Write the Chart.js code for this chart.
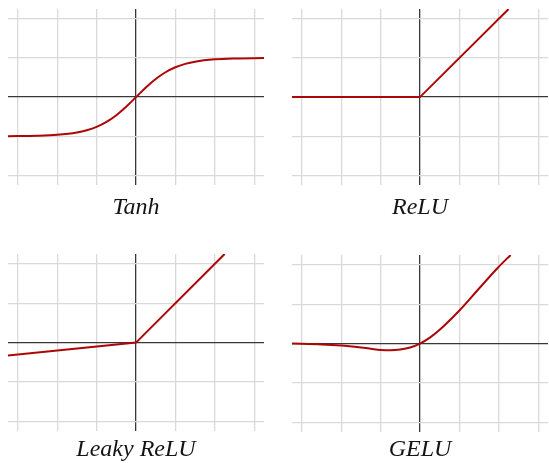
<!DOCTYPE html>
<html>
<head>
<meta charset="utf-8">
<script src="https://cdn.jsdelivr.net/npm/chart.js@4/dist/chart.umd.min.js"></script>
<style>
  html, body { margin: 0; padding: 0; background: #fff; }
  body { width: 549px; height: 463px; position: relative; overflow: hidden; }
  .panel { position: absolute; width: 256px; }
  .panel canvas { display: block; }
</style>
</head>
<body>

<div class="panel" id="p1" style="left:8px; top:9px; height:213px;"><canvas id="tanhChart"></canvas></div>
<div class="panel" id="p2" style="left:292px; top:9px; height:213px;"><canvas id="reluChart"></canvas></div>
<div class="panel" id="p3" style="left:8px; top:254px; height:210px;"><canvas id="leakyChart"></canvas></div>
<div class="panel" id="p4" style="left:292px; top:255px; height:209px;"><canvas id="geluChart"></canvas></div>

<script>
// ---------------- Data ----------------

const xTicks = [-3, -2, -1, 0, 1, 2, 3];
const yTicks = [-2, -1, 0, 1, 2];

const tanhX = [-3.25, -2.5, -2, -1.5, -1.25, -1, -0.75, -0.5, -0.25, 0, 0.25, 0.5, 0.75, 1, 1.25, 1.5, 2, 2.5, 3.25];
const tanhY = [-0.997, -0.987, -0.964, -0.905, -0.848, -0.762, -0.635, -0.462, -0.245, 0, 0.245, 0.462, 0.635, 0.762, 0.848, 0.905, 0.964, 0.987, 0.997];

const reluX = [-3.25, 0, 2.25];
const reluY = [0, 0, 2.25];

const leakyX = [-3.25, 0, 2.25];
const leakyY = [-0.33, 0, 2.25];

const geluX = [-3.25, -2.5, -2, -1.5, -1.25, -1, -0.75, -0.5, -0.25, 0, 0.25, 0.5, 1, 1.5, 2, 2.3];
const geluY = [0, -0.02, -0.05, -0.1, -0.13, -0.16, -0.17, -0.15, -0.1, 0, 0.15, 0.35, 0.84, 1.4, 1.95, 2.25];

// ---------------- Helpers ----------------

const red = "#ac0606";

function points(xs, ys){
  return xs.map((x, i) => ({ x: x, y: ys[i] }));
}

function gridColor(ctx){
  return ctx.tick && ctx.tick.value === 0 ? "#383838" : "#d9d9d9";
}

function gridWidth(ctx){
  return ctx.tick && ctx.tick.value === 0 ? 1.3 : 1.3;
}

function makeChart(id, title, xs, ys, smooth, padTop){

  new Chart(document.getElementById(id), {

    type: "line",

    data: {
      datasets: [{
        data: points(xs, ys),
        borderColor: red,
        borderWidth: 2,
        pointRadius: 0,
        fill: false,
        cubicInterpolationMode: smooth ? "monotone" : "default",
        tension: 0
      }]
    },

    options: {
      responsive: true,
      maintainAspectRatio: false,
      animation: false,
      devicePixelRatio: 1,
      layout: { padding: 0, autoPadding: false },
      plugins: {
        legend: { display: false },
        tooltip: { enabled: false },
        title: {
          display: true,
          position: "bottom",
          text: title,
          color: "#141414",
          font: { family: "Liberation Serif", style: "italic", weight: "normal", size: 24, lineHeight: 1.2 },
          padding: { top: padTop, bottom: 0 }
        }
      },
      scales: {
        x: {
          type: "linear",
          min: -3.25,
          max: 3.25,
          afterBuildTicks: s => { s.ticks = xTicks.map(v => ({ value: v })); },
          ticks: { display: false },
          grid: { drawTicks: false, color: gridColor, lineWidth: gridWidth },
          border: { display: false }
        },
        y: {
          type: "linear",
          min: -2.25,
          max: 2.25,
          afterBuildTicks: s => { s.ticks = yTicks.map(v => ({ value: v })); },
          ticks: { display: false },
          grid: { drawTicks: false, color: gridColor, lineWidth: gridWidth },
          border: { display: false }
        }
      }
    }

  });

}

// ---------------- Charts ----------------

makeChart("tanhChart", "Tanh", tanhX, tanhY, true, 8);
makeChart("reluChart", "ReLU", reluX, reluY, false, 8);
makeChart("leakyChart", "Leaky ReLU", leakyX, leakyY, false, 4);
makeChart("geluChart", "GELU", geluX, geluY, true, 3);
</script>
</body>
</html>
